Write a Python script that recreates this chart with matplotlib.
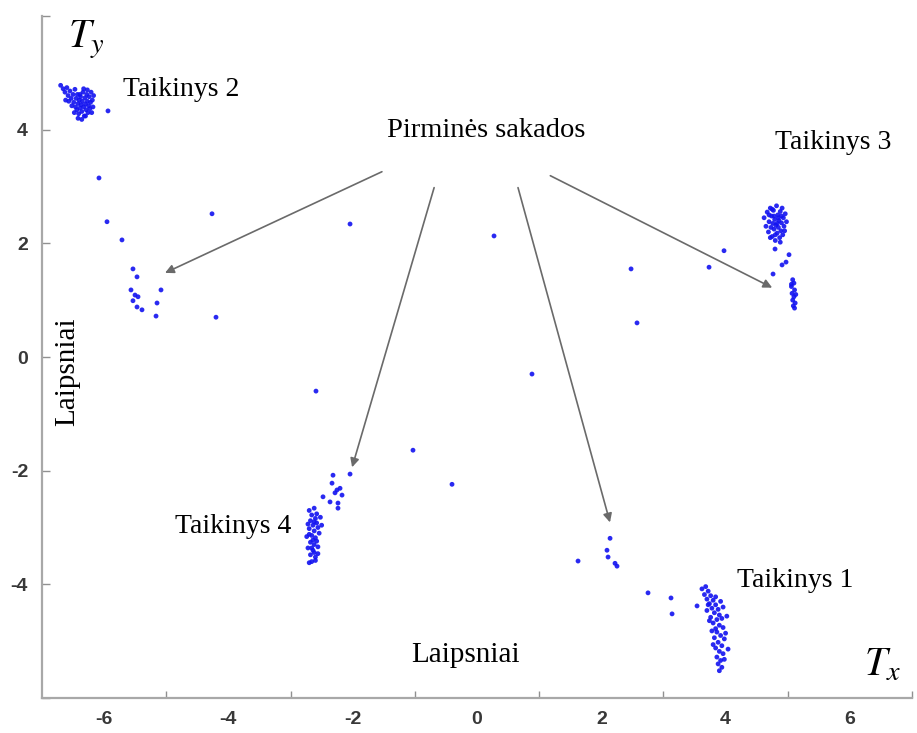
import numpy as np
import matplotlib
matplotlib.use('Agg')
import matplotlib.pyplot as plt

# Gaze samples (degrees) around the four targets
t1_x = [3.62, 3.68, 3.72, 3.66, 3.76, 3.70, 3.80, 3.74, 3.84, 3.78, 3.88, 3.82, 3.90, 3.76,
        3.86, 3.94, 3.80, 3.90, 3.84, 3.96, 3.86, 3.92, 3.82, 3.98, 3.88, 3.94, 3.84, 3.90,
        3.96, 3.86, 3.92, 3.88, 3.94, 3.90, 3.70, 3.96, 3.74, 4.00, 3.80, 3.98, 3.84, 3.92,
        4.02, 3.78, 4.04, 3.72]
t1_y = [-4.08, -4.04, -4.12, -4.18, -4.20, -4.26, -4.28, -4.34, -4.36, -4.42, -4.44, -4.50,
        -4.54, -4.58, -4.62, -4.60, -4.68, -4.72, -4.78, -4.76, -4.84, -4.90, -4.94, -4.96,
        -5.02, -5.08, -5.12, -5.18, -5.22, -5.28, -5.34, -5.40, -5.46, -5.52, -4.46, -4.40,
        -4.64, -4.86, -5.06, -5.32, -4.22, -4.30, -4.56, -4.82, -5.14, -4.36]

t2_x = [-6.70, -6.66, -6.63, -6.60, -6.58, -6.55, -6.53, -6.50, -6.49, -6.47, -6.46, -6.45,
        -6.44, -6.43, -6.42, -6.41, -6.40, -6.39, -6.38, -6.37, -6.36, -6.35, -6.34, -6.33,
        -6.32, -6.31, -6.30, -6.29, -6.28, -6.27, -6.26, -6.25, -6.24, -6.23, -6.22, -6.21,
        -6.20, -6.19, -6.18, -6.17, -6.42, -6.36, -6.52, -6.57, -6.48, -6.33, -6.27, -6.62,
        -6.39, -6.30]
t2_y = [4.78, 4.72, 4.66, 4.74, 4.60, 4.68, 4.55, 4.62, 4.48, 4.71, 4.40, 4.55, 4.35, 4.62,
        4.46, 4.28, 4.52, 4.38, 4.58, 4.44, 4.32, 4.50, 4.66, 4.40, 4.24, 4.56, 4.45, 4.35,
        4.62, 4.50, 4.30, 4.42, 4.58, 4.37, 4.48, 4.66, 4.30, 4.52, 4.40, 4.60, 4.20, 4.18,
        4.42, 4.50, 4.30, 4.72, 4.70, 4.52, 4.62, 4.24]

t3_x = [4.62, 4.65, 4.67, 4.69, 4.70, 4.72, 4.73, 4.74, 4.75, 4.76, 4.77, 4.78, 4.79, 4.80,
        4.81, 4.82, 4.83, 4.84, 4.85, 4.86, 4.87, 4.88, 4.89, 4.90, 4.91, 4.92, 4.93, 4.94,
        4.96, 4.98, 4.70, 4.75, 4.85, 4.80, 4.88, 4.72, 4.95, 4.78, 4.83, 4.90,
        5.08, 5.10, 5.06, 5.11, 5.07, 5.10, 5.08, 5.12, 5.09, 5.11, 5.06, 5.13]
t3_y = [2.45, 2.30, 2.55, 2.20, 2.38, 2.62, 2.28, 2.48, 2.12, 2.35, 2.58, 2.25, 2.42, 2.05,
        2.32, 2.66, 2.18, 2.50, 2.28, 2.40, 2.10, 2.56, 2.22, 2.36, 2.62, 2.15, 2.45, 2.30,
        2.52, 2.38, 2.50, 2.60, 2.45, 2.15, 2.02, 2.10, 2.22, 2.48, 2.35, 2.48,
        1.36, 1.30, 1.24, 1.18, 1.12, 1.06, 1.00, 0.95, 0.90, 0.86, 1.28, 1.10]

t4_x = [-2.70, -2.66, -2.62, -2.68, -2.60, -2.64, -2.58, -2.70, -2.62, -2.56, -2.66, -2.60,
        -2.54, -2.68, -2.62, -2.58, -2.72, -2.64, -2.56, -2.68, -2.60, -2.66, -2.70, -2.62,
        -2.52, -2.50, -2.74, -2.58, -2.64, -2.70, -2.62, -2.66, -2.56, -2.72, -2.60,
        -2.317, -2.043, -2.333, -2.253, -2.204, -2.285, -2.172, -2.365, -2.237, -2.478, -2.237]
t4_y = [-2.70, -2.78, -2.66, -2.88, -2.84, -2.96, -2.92, -3.02, -3.06, -3.00, -3.14, -3.18,
        -3.10, -3.26, -3.30, -3.24, -3.36, -3.40, -3.34, -3.48, -3.52, -3.60, -3.62, -3.44,
        -2.82, -2.96, -3.16, -2.76, -3.22, -3.12, -2.90, -3.36, -3.46, -2.94, -3.58,
        -2.08, -2.06, -2.22, -2.34, -2.31, -2.39, -2.43, -2.55, -2.57, -2.46, -2.66]

# Samples along the saccade paths between targets
sac_x = [-5.938, -6.083, -5.954, -5.713, -4.264, -5.536, -5.471, -5.568, -5.503, -5.455,
         -5.536, -5.471, -5.391, -5.085, -5.149, -5.165, -4.200, -2.043, -2.591, -1.030,
         -0.402, 0.274, 0.885, 2.479, 2.575, 3.734, 3.975, 4.796, 5.021, 4.909, 4.973, 4.764,
         1.626, 2.141, 2.092, 2.109, 2.221, 2.253, 2.752, 3.122, 3.139, 3.541]
sac_y = [4.33, 3.15, 2.38, 2.06, 2.52, 1.55, 1.41, 1.18, 1.09, 1.06, 0.99, 0.88, 0.83, 1.18,
         0.95, 0.72, 0.70, 2.34, -0.60, -1.64, -2.24, 2.13, -0.30, 1.55, 0.60, 1.58, 1.87,
         1.90, 1.80, 1.62, 1.67, 1.46, -3.59, -3.19, -3.40, -3.52, -3.63, -3.68, -4.15,
         -4.24, -4.52, -4.38]

x_ticklabels = ['-6', '-4', '-2', '0', '2', '4', '6']
y_ticklabels = ['', '-4', '-2', '0', '2', '4', '']

# primary saccade arrows: (start x, start y, end x, end y)
saccade_arrows = [(-1.53, 3.26, -5.02, 1.48),
                  (-0.69, 2.98, -2.01, -1.94),
                  (0.66, 2.98, 2.14, -2.91),
                  (1.18, 3.19, 4.75, 1.22)]

serif = 'Liberation Serif'
plt.rcParams['mathtext.fontset'] = 'stix'

fig = plt.figure(figsize=(9.17, 7.33), dpi=100)
ax = fig.add_axes([42/917, 1 - 698/733, 870/917, 682/733])

dot_color = '#1212f0'
for gx, gy in [(t1_x, t1_y), (t2_x, t2_y), (t3_x, t3_y), (t4_x, t4_y), (sac_x, sac_y)]:
    ax.scatter(gx, gy, s=12, c=dot_color, edgecolors='none', alpha=0.9, zorder=3)

for x0, y0, x1, y1 in saccade_arrows:
    ax.annotate('', xy=(x1, y1), xytext=(x0, y0),
                arrowprops=dict(arrowstyle='-|>', color='#6a6a6a', lw=1.2,
                                mutation_scale=13, shrinkA=0, shrinkB=0))

ax.set_xlim(-7, 7)
ax.set_ylim(-6, 6)

for side in ['top', 'right']:
    ax.spines[side].set_visible(False)
for side in ['left', 'bottom']:
    ax.spines[side].set_color('#a8a8a8')
    ax.spines[side].set_linewidth(1.6)

ax.set_xticks(np.arange(-6, 7, 2))
ax.set_xticklabels(x_ticklabels)
ax.set_xticks([-5, -3, -1, 1, 3, 5, 7], minor=True)
ax.tick_params(axis='x', which='major', length=0, pad=9)
ax.tick_params(axis='x', which='minor', direction='in', length=5, width=1, color='#909090')

ax.set_yticks(np.arange(-6, 7, 2))
ax.set_yticklabels(y_ticklabels)
ax.tick_params(axis='y', which='major', direction='in', length=6, width=1,
               color='#909090', pad=10)

for lab in ax.get_xticklabels() + ax.get_yticklabels():
    lab.set_fontfamily('Liberation Sans')
    lab.set_fontweight('bold')
    lab.set_fontsize(14)
    lab.set_color('#383838')

# labels
ax.text(0.15, 3.98, 'Pirminės sakados', family=serif, fontsize=20.5, ha='center', va='center')
ax.text(-5.70, 4.70, 'Taikinys 2', family=serif, fontsize=20, ha='left', va='center')
ax.text(4.80, 3.77, 'Taikinys 3', family=serif, fontsize=20, ha='left', va='center')
ax.text(-4.86, -2.99, 'Taikinys 4', family=serif, fontsize=20, ha='left', va='center')
ax.text(4.18, -3.93, 'Taikinys 1', family=serif, fontsize=20, ha='left', va='center')
ax.text(-0.19, -5.25, 'Laipsniai', family=serif, fontsize=21, ha='center', va='center')
ax.text(-6.60, -0.26, 'Laipsniai', family=serif, fontsize=21, ha='center', va='center',
        rotation=90)
ax.text(-6.58, 5.58, r'$T_y$', fontsize=29, ha='left', va='center')
ax.text(6.22, -5.42, r'$T_x$', fontsize=29, ha='left', va='center')

fig.savefig('out.png', dpi=100)
